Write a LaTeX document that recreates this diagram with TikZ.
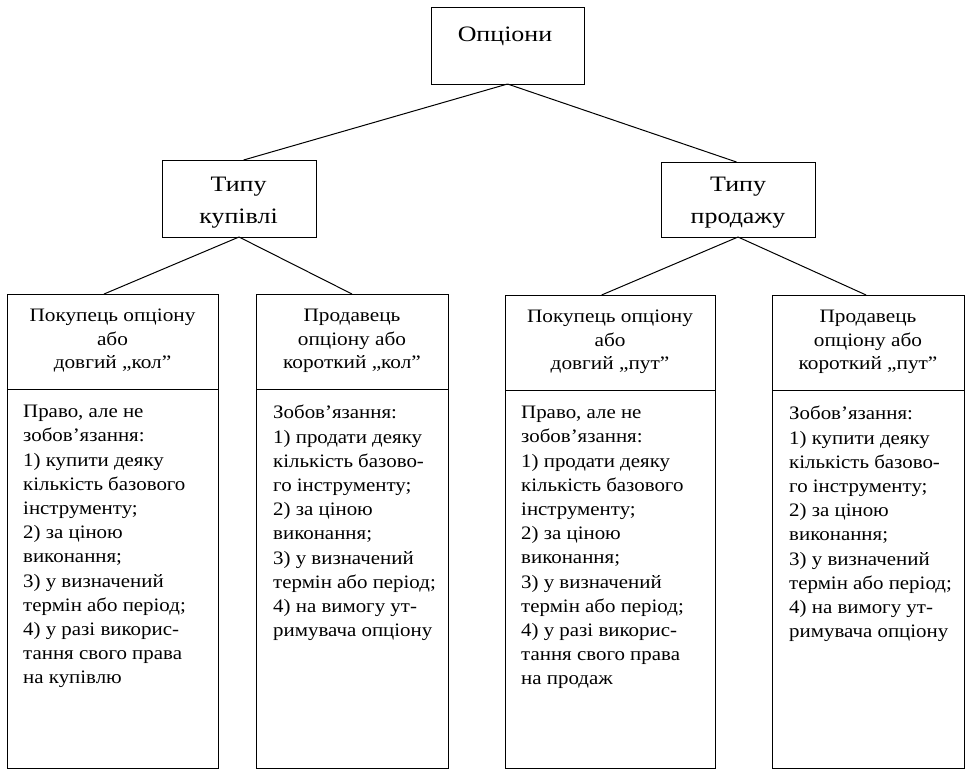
\documentclass[tikz,border=0pt]{standalone}
\usepackage{fontspec}
\setmainfont{Liberation Serif}
\newfontfamily\bodyf[FakeStretch=1.1]{Liberation Serif}
\newfontfamily\headf[FakeStretch=1.12]{Liberation Serif}
\newfontfamily\bigf[FakeStretch=1.18]{Liberation Serif}
\usetikzlibrary{calc}
\begin{document}
\begin{tikzpicture}[x=1pt,y=-1pt,
  box/.style={draw,line width=1pt,inner sep=0pt,outer sep=0pt,anchor=north west},
  con/.style={line width=1pt},
  bigtxt/.style={inner sep=0pt,align=center,anchor=north,font=\bigf\fontsize{22}{32}\selectfont},
  headtxt/.style={inner sep=0pt,align=center,anchor=north,font=\headf\fontsize{19}{23.5}\selectfont},
  bodytxt/.style={inner sep=0pt,align=left,anchor=north west,font=\bodyf\fontsize{19}{24.2}\selectfont}]
\useasboundingbox (0,0) rectangle (968,769);
% top level
\node[box,minimum width=153pt,minimum height=77pt] (top) at (431,7) {};
\node[bigtxt,anchor=base] (toptxt) at (505,41) {Опціони};
% second level
\node[box,minimum width=154pt,minimum height=77pt] (kup) at (162,160) {};
\node[bigtxt] (kuptxt) at (238.5,177) {Типу\\купівлі};
\node[box,minimum width=154pt,minimum height=75pt] (prod) at (661,162) {};
\node[bigtxt] (prodtxt) at (738,177) {Типу\\продажу};
% third level headers
\node[box,minimum width=211pt,minimum height=95pt] (h1) at (7,294) {};
\node[box,minimum width=192pt,minimum height=95pt] (h2) at (256,294) {};
\node[box,minimum width=210pt,minimum height=95pt] (h3) at (505,295) {};
\node[box,minimum width=192pt,minimum height=95pt] (h4) at (772,295) {};
% bodies
\node[box,minimum width=211pt,minimum height=379pt] (b1) at (7,389) {};
\node[box,minimum width=192pt,minimum height=379pt] (b2) at (256,389) {};
\node[box,minimum width=210pt,minimum height=378pt] (b3) at (505,390) {};
\node[box,minimum width=192pt,minimum height=378pt] (b4) at (772,390) {};
% header texts
\node[headtxt] (h1t) at (112.5,309) {Покупець опціону\\або\\довгий „кол”};
\node[headtxt] (h2t) at (352,309) {Продавець\\опціону або\\короткий „кол”};
\node[headtxt] (h3t) at (610,310) {Покупець опціону\\або\\довгий „пут”};
\node[headtxt] (h4t) at (868,310) {Продавець\\опціону або\\короткий „пут”};
% body texts
\node[bodytxt] (b1t) at (23,405) {Право, але не\\зобов’язання:\\1) купити деяку\\кількість базового\\інструменту;\\2) за ціною\\виконання;\\3) у визначений\\термін або період;\\4) у разі викорис-\\тання свого права\\на купівлю};
\node[bodytxt] (b2t) at (273,405) {Зобов’язання:\\1) продати деяку\\кількість базово-\\го інструменту;\\2) за ціною\\виконання;\\3) у визначений\\термін або період;\\4) на вимогу ут-\\римувача опціону};
\node[bodytxt] (b3t) at (521,406) {Право, але не\\зобов’язання:\\1) продати деяку\\кількість базового\\інструменту;\\2) за ціною\\виконання;\\3) у визначений\\термін або період;\\4) у разі викорис-\\тання свого права\\на продаж};
\node[bodytxt] (b4t) at (789,406) {Зобов’язання:\\1) купити деяку\\кількість базово-\\го інструменту;\\2) за ціною\\виконання;\\3) у визначений\\термін або період;\\4) на вимогу ут-\\римувача опціону};
% connectors
\draw[con] (top.south) -- ($(kup.north west)!0.53!(kup.north east)$);
\draw[con] (top.south) -- ($(prod.north west)!0.49!(prod.north east)$);
\draw[con] (kup.south) -- ($(h1.north west)!0.46!(h1.north east)$);
\draw[con] (kup.south) -- (h2.north);
\draw[con] (prod.south) -- ($(h3.north west)!0.46!(h3.north east)$);
\draw[con] (prod.south) -- ($(h4.north west)!0.49!(h4.north east)$);
\end{tikzpicture}
\end{document}
